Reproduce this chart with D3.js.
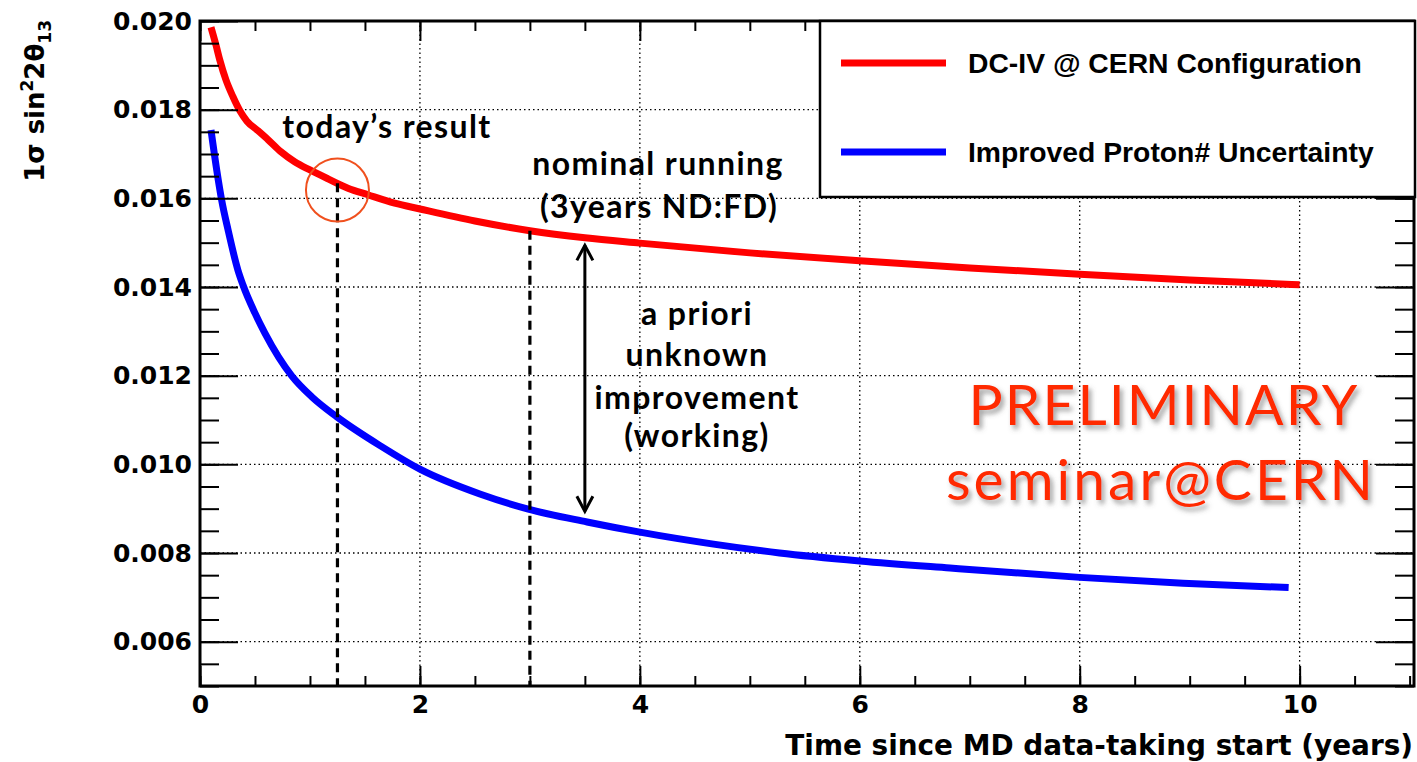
<!DOCTYPE html>
<html>
<head>
<meta charset="utf-8">
<script src="https://cdn.jsdelivr.net/npm/d3@7"></script>
<style>
  html, body { margin: 0; padding: 0; background: #fff; }
  svg { display: block; }
</style>
</head>
<body>
<svg id="chart" width="1417" height="762"></svg>
<script>
// Sensitivity projection: 1 sigma error on sin^2(2 theta13) versus running time
const redYears  = [0.1, 0.145, 0.18, 0.236, 0.3, 0.364, 0.427, 0.52, 0.62, 0.736, 0.864, 1.0, 1.164, 1.345, 1.527, 1.77, 2.0, 2.5, 3.0, 3.5, 4.0, 5.0, 6.0, 7.0, 8.0, 9.0, 10.0];
const redSigma  = [0.01986, 0.01946, 0.01912, 0.01867, 0.01829, 0.01797, 0.01774, 0.01754, 0.01732, 0.01705, 0.01682, 0.01664, 0.01644, 0.01623, 0.01608, 0.01589, 0.01576, 0.01549, 0.01527, 0.01511, 0.01499, 0.01477, 0.01459, 0.01443, 0.01429, 0.01416, 0.01405];
const blueYears = [0.1, 0.152, 0.197, 0.255, 0.345, 0.39, 0.5, 0.59, 0.836, 1.018, 1.245, 1.645, 2.0, 2.545, 2.985, 3.52, 4.0, 4.67, 5.27, 6.0, 6.82, 8.0, 8.94, 9.9];
const blueSigma = [0.01754, 0.01664, 0.01596, 0.01529, 0.01438, 0.01405, 0.01341, 0.01296, 0.01199, 0.01152, 0.01107, 0.01041, 0.00989, 0.00933, 0.00899, 0.00870, 0.00847, 0.00820, 0.00800, 0.00782, 0.00766, 0.00745, 0.00732, 0.00722];

const seriesNames  = ["DC-IV @ CERN Configuration", "Improved Proton# Uncertainty"];
const seriesColors = ["#ff0000", "#0000ff"];

const xMajorTicks = [0, 2, 4, 6, 8, 10];
const xMinorTicks = d3.range(0, 11.01, 0.5);
const yMajorTicks = [0.006, 0.008, 0.010, 0.012, 0.014, 0.016, 0.018, 0.020];
const yMinorTicks = d3.range(0.005, 0.02001, 0.0005);

const markerYears = [1.25, 3.0];   // "today's result" and nominal 3-year run
const arrowYear = 3.5;
const arrowRange = [0.01512, 0.00876];

const xTitle = "Time since MD data-taking start (years)";

const svg = d3.select("#chart");
const L = 200, R = 1414, T = 21, B = 686;

const x = d3.scaleLinear().domain([0, 11.04]).range([L, R]);
const y = d3.scaleLinear().domain([0.005, 0.020]).range([B, T]);

const axisFont = "'DejaVu Sans', sans-serif";
const noteFont = "Lato, 'Open Sans', sans-serif";

// shadow for the watermark text
const defs = svg.append("defs");
const f = defs.append("filter").attr("id", "shadow").attr("x", "-10%").attr("y", "-20%").attr("width", "120%").attr("height", "150%");
f.append("feDropShadow").attr("dx", 3).attr("dy", 4).attr("stdDeviation", 2.5)
  .attr("flood-color", "#555").attr("flood-opacity", 0.55);

// dotted grid
const grid = svg.append("g").attr("stroke", "#000").attr("stroke-width", 1.3).attr("stroke-dasharray", "1.5,3");
grid.selectAll("line.gx").data(xMajorTicks.filter(d => d > 0)).join("line")
  .attr("x1", d => x(d)).attr("x2", d => x(d)).attr("y1", T).attr("y2", B);
grid.selectAll("line.gy").data(yMajorTicks.filter(d => d < 0.020)).join("line")
  .attr("x1", L).attr("x2", R).attr("y1", d => y(d)).attr("y2", d => y(d));

// curves
const line = d3.line().x(d => x(d[0])).y(d => y(d[1])).curve(d3.curveMonotoneX);
const series = [d3.zip(redYears, redSigma), d3.zip(blueYears, blueSigma)];
svg.append("g").selectAll("path").data(series).join("path")
  .attr("d", line).attr("fill", "none")
  .attr("stroke", (d, i) => seriesColors[i]).attr("stroke-width", 7);

// dashed markers down to the axis
const redAt = d3.scaleLinear().domain(redYears).range(redSigma);
svg.append("g").selectAll("line").data(markerYears).join("line")
  .attr("x1", d => x(d)).attr("x2", d => x(d))
  .attr("y1", d => y(redAt(d))).attr("y2", B)
  .attr("stroke", "#000").attr("stroke-width", 3.2).attr("stroke-dasharray", "9,6");

// axes with inward ticks on all four sides
function styleAxis(g) {
  g.select(".domain").remove();
  g.selectAll(".tick line").attr("stroke", "#000").attr("stroke-width", 2);
  g.selectAll(".tick text").attr("fill", "#000").attr("font-family", axisFont)
    .attr("font-weight", "bold").attr("font-size", 25);
}
svg.append("g").attr("transform", `translate(0,${B})`)
  .call(d3.axisBottom(x).tickValues(xMinorTicks).tickSize(-10).tickFormat("")).call(styleAxis);
svg.append("g").attr("transform", `translate(0,${B})`)
  .call(d3.axisBottom(x).tickValues(xMajorTicks).tickSize(-20).tickPadding(9).tickFormat(d3.format("d"))).call(styleAxis);
svg.append("g").attr("transform", `translate(0,${T})`)
  .call(d3.axisTop(x).tickValues(xMinorTicks).tickSize(-10).tickFormat("")).call(styleAxis);
svg.append("g").attr("transform", `translate(0,${T})`)
  .call(d3.axisTop(x).tickValues(xMajorTicks).tickSize(-20).tickFormat("")).call(styleAxis);
svg.append("g").attr("transform", `translate(${L},0)`)
  .call(d3.axisLeft(y).tickValues(yMinorTicks).tickSize(-19).tickFormat("")).call(styleAxis);
svg.append("g").attr("transform", `translate(${L},0)`)
  .call(d3.axisLeft(y).tickValues(yMajorTicks).tickSize(-38).tickPadding(8).tickFormat(d3.format(".3f"))).call(styleAxis);
svg.append("g").attr("transform", `translate(${R},0)`)
  .call(d3.axisRight(y).tickValues(yMinorTicks).tickSize(-19).tickFormat("")).call(styleAxis);
svg.append("g").attr("transform", `translate(${R},0)`)
  .call(d3.axisRight(y).tickValues(yMajorTicks).tickSize(-38).tickFormat("")).call(styleAxis);

// frame
svg.append("rect").attr("x", L).attr("y", T).attr("width", R - L).attr("height", B - T)
  .attr("fill", "none").attr("stroke", "#000").attr("stroke-width", 3);

// axis titles
svg.append("text").attr("x", 1413).attr("y", 755).attr("text-anchor", "end")
  .attr("font-family", axisFont).attr("font-weight", "bold").attr("font-size", 27.9)
  .text(xTitle);

const yt = svg.append("text").attr("transform", "translate(44,20) rotate(-90)")
  .attr("text-anchor", "end").attr("font-family", axisFont).attr("font-weight", "bold").attr("font-size", 26);
yt.append("tspan").text("1σ sin");
yt.append("tspan").attr("font-size", 17).attr("dy", -11).text("2");
yt.append("tspan").attr("dy", 11).text("2θ");
yt.append("tspan").attr("font-size", 17).attr("dy", 7).text("13");

// legend
const lg = svg.append("g");
lg.append("rect").attr("x", 820).attr("y", 21).attr("width", 595).attr("height", 176)
  .attr("fill", "#fff").attr("stroke", "#000").attr("stroke-width", 2.5);
const legendRows = [63, 152];
seriesNames.forEach((name, i) => {
  lg.append("line").attr("x1", 841).attr("x2", 946).attr("y1", legendRows[i]).attr("y2", legendRows[i])
    .attr("stroke", seriesColors[i]).attr("stroke-width", 7);
  lg.append("text").attr("x", 968).attr("y", legendRows[i] + 10)
    .attr("font-family", "'Liberation Sans', Arial, sans-serif").attr("font-weight", "bold")
    .attr("font-size", 28.3).attr("fill", "#000").text(name);
});

// annotations
const notes = svg.append("g").attr("font-family", noteFont).attr("font-weight", "bold")
  .attr("font-size", 32).attr("fill", "#000").attr("text-anchor", "middle").attr("letter-spacing", 1.4);
notes.append("text").attr("x", 387).attr("y", 138).text("today’s result");
notes.append("text").attr("x", 658).attr("y", 175).text("nominal running");
notes.append("text").attr("x", 659).attr("y", 218).text("(3years ND:FD)");
[["a priori", 325], ["unknown", 366], ["improvement", 409], ["(working)", 447]].forEach(([t, yy]) => {
  notes.append("text").attr("x", 697).attr("y", yy).text(t);
});

// highlight circle on today's result
svg.append("circle").attr("cx", x(markerYears[0])).attr("cy", 190).attr("r", 31.5)
  .attr("fill", "none").attr("stroke", "#f0501e").attr("stroke-width", 2);

// double arrow
const ax = x(arrowYear);
const y0 = y(arrowRange[0]) + 8, y1 = y(arrowRange[1]) - 8;
const arr = svg.append("g").attr("stroke", "#000").attr("stroke-width", 3).attr("fill", "none");
arr.append("line").attr("x1", ax).attr("x2", ax).attr("y1", y0).attr("y2", y1);
arr.append("path").attr("d", `M${ax - 8},${y0 + 15} L${ax},${y0} L${ax + 8},${y0 + 15}`);
arr.append("path").attr("d", `M${ax - 8},${y1 - 15} L${ax},${y1} L${ax + 8},${y1 - 15}`);

// watermark
const wm = svg.append("g").attr("font-family", noteFont).attr("font-size", 57).attr("fill", "#ff2a00")
  .attr("text-anchor", "middle").attr("filter", "url(#shadow)");
wm.append("text").attr("x", 1164).attr("y", 425).attr("letter-spacing", 2).text("PRELIMINARY");
wm.append("text").attr("x", 1161).attr("y", 500).attr("letter-spacing", 3).text("seminar@CERN");
</script>
</body>
</html>
